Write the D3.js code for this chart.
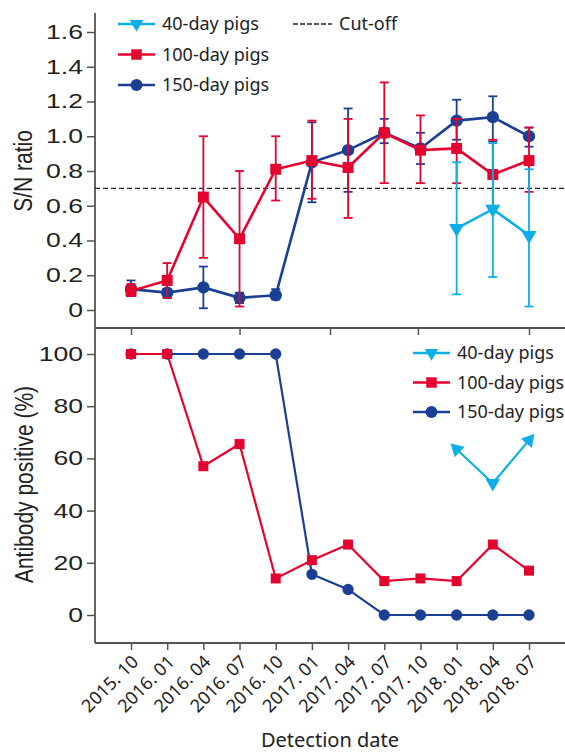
<!DOCTYPE html>
<html>
<head>
<meta charset="utf-8">
<script src="https://cdn.jsdelivr.net/npm/d3@7"></script>
<style>
  body { margin: 0; background: #fff; }
  svg { display: block; }
  .tick text { fill: #222; }
</style>
</head>
<body>
<svg id="chart" width="565" height="754"></svg>
<script>
// detection dates (x categories)
const dates = ["2015. 10", "2016. 01", "2016. 04", "2016. 07", "2016. 10", "2017. 01",
    "2017. 04", "2017. 07", "2017. 10", "2018. 01", "2018. 04", "2018. 07"];

// S/N ratio (mean, upper, lower) per group, index = date index
const snRed = [0.11, 0.17, 0.65, 0.41, 0.81, 0.86, 0.82, 1.02, 0.92, 0.93, 0.78, 0.86];
const snRedHi = [0.15, 0.27, 1.00, 0.80, 1.00, 1.09, 1.10, 1.31, 1.12, 1.10, 0.98, 1.05];
const snRedLo = [0.08, 0.07, 0.30, 0.02, 0.63, 0.64, 0.53, 0.73, 0.73, 0.73, 0.60, 0.68];

const snBlue = [0.12, 0.10, 0.13, 0.07, 0.085, 0.85, 0.92, 1.02, 0.93, 1.09, 1.11, 1.00];
const snBlueHi = [0.17, 0.12, 0.25, 0.10, 0.12, 1.08, 1.16, 1.10, 1.02, 1.21, 1.23, 1.05];
const snBlueLo = [0.08, 0.07, 0.01, 0.04, 0.06, 0.62, 0.68, 0.96, 0.84, 0.98, 0.97, 0.94];

const snCyanIdx = [9, 10, 11];
const snCyan = [0.47, 0.58, 0.43];
const snCyanHi = [0.85, 0.96, 0.81];
const snCyanLo = [0.09, 0.19, 0.02];

const cutOff = 0.7;

// antibody positive (%)
const pctRed = [100, 100, 57, 65.5, 14, 21, 27, 13, 14, 13, 27, 17];
const pctBlue = [100, 100, 100, 100, 100, 15.6, 9.8, 0, 0, 0, 0, 0];
const pctCyanIdx = [9, 10, 11];
const pctCyan = [63.5, 50.5, 67];

const snTicks = [0, 0.2, 0.4, 0.6, 0.8, 1.0, 1.2, 1.4, 1.6];
const pctTicks = [0, 20, 40, 60, 80, 100];
const topTickIdx = [0, 3, 5.5, 7.93, 11]; // the upper panel only has a few ticks

const RED = "#e4032e", BLUE = "#1b3f93", CYAN = "#0db0e6", AXIS = "#555";

const svg = d3.select("#chart");
const x = d3.scaleLinear().domain([0, 11]).range([131, 529]);
const yTop = d3.scaleLinear().domain([0, 1.6]).range([310, 32]);
const yBot = d3.scaleLinear().domain([0, 100]).range([615, 354]);
const axisX0 = 95;

const sq = d3.symbol().type(d3.symbolSquare);
const circ = d3.symbol().type(d3.symbolCircle);
const tri = d3.symbol().type(d3.symbolTriangle);

function drawSeries(g, idx, vals, y, color, shape, size, lw) {
    const pts = idx.map((d, i) => [x(d), y(vals[i])]);
    g.append("path")
        .attr("d", d3.line()(pts))
        .attr("fill", "none")
        .attr("stroke", color)
        .attr("stroke-width", lw);
    g.selectAll(null)
        .data(pts)
        .enter()
        .append("path")
        .attr("d", shape.size(size))
        .attr("transform", d => "translate(" + d[0] + "," + d[1] + ")")
        .attr("fill", color);
}

function drawErrors(g, idx, hi, lo, y, color) {
    const e = g.selectAll(null).data(idx).enter().append("g").attr("stroke", color).attr("stroke-width", 1.8);
    e.append("line").attr("x1", d => x(d)).attr("x2", d => x(d))
        .attr("y1", (d, i) => y(hi[i])).attr("y2", (d, i) => y(lo[i]));
    e.append("line").attr("x1", d => x(d) - 4.5).attr("x2", d => x(d) + 4.5)
        .attr("y1", (d, i) => y(hi[i])).attr("y2", (d, i) => y(hi[i]));
    e.append("line").attr("x1", d => x(d) - 4.5).attr("x2", d => x(d) + 4.5)
        .attr("y1", (d, i) => y(lo[i])).attr("y2", (d, i) => y(lo[i]));
}

function yAxis(scale, ticks, fmt, y1, y2) {
    const g = svg.append("g")
        .attr("transform", "translate(" + axisX0 + ",0)")
        .call(d3.axisLeft(scale).tickValues(ticks).tickFormat(fmt).tickSize(8).tickPadding(4));
    g.select(".domain").remove();
    g.selectAll(".tick line").attr("stroke", AXIS).attr("stroke-width", 1.5);
    g.selectAll(".tick text")
        .attr("font-family", "Liberation Sans, Arial, sans-serif")
        .attr("font-size", 20)
        .attr("x", -9)
        .attr("transform", "scale(1.33,1)");
    g.append("line").attr("y1", y1).attr("y2", y2).attr("stroke", AXIS).attr("stroke-width", 1.8);
    return g;
}

function xAxisLine(yPos, ticks, labels) {
    const g = svg.append("g")
        .attr("transform", "translate(0," + yPos + ")")
        .call(d3.axisBottom(x).tickValues(ticks).tickSize(7).tickFormat(labels ? (d => dates[d]) : ""));
    g.select(".domain").remove();
    g.selectAll(".tick line").attr("stroke", AXIS).attr("stroke-width", 1.5);
    g.append("line").attr("x1", axisX0).attr("x2", 565).attr("stroke", AXIS).attr("stroke-width", 1.8);
    if (labels) {
        g.selectAll(".tick text")
            .attr("font-family", "Noto Sans, sans-serif")
            .attr("font-size", 18)
            .attr("text-anchor", "end")
            .attr("y", 0)
            .attr("dy", 0)
            .attr("transform", "translate(8,20) rotate(-45)");
    }
}

// ---------- top panel: S/N ratio ----------
yAxis(yTop, snTicks, d => d === 0 ? "0" : d3.format(".1f")(d), 13, 328);
xAxisLine(328, topTickIdx, false);

svg.append("line")
    .attr("x1", axisX0).attr("x2", 565)
    .attr("y1", yTop(cutOff)).attr("y2", yTop(cutOff))
    .attr("stroke", "#222").attr("stroke-width", 1.3).attr("stroke-dasharray", "5,3");

const topG = svg.append("g");
const allIdx = d3.range(dates.length);
drawErrors(topG, allIdx, snBlueHi, snBlueLo, yTop, BLUE);
drawSeries(topG, allIdx, snBlue, yTop, BLUE, circ, 120, 2.6);
drawErrors(topG, allIdx, snRedHi, snRedLo, yTop, RED);
drawSeries(topG, allIdx, snRed, yTop, RED, sq, 120, 2.6);
drawErrors(topG, snCyanIdx, snCyanHi, snCyanLo, yTop, CYAN);
topG.append("path")
    .attr("d", d3.line()(snCyanIdx.map((d, i) => [x(d), yTop(snCyan[i])])))
    .attr("fill", "none").attr("stroke", CYAN).attr("stroke-width", 2.6);
topG.selectAll(null).data(snCyanIdx).enter().append("path")
    .attr("d", tri.size(100))
    .attr("transform", (d, i) => "translate(" + x(d) + "," + yTop(snCyan[i]) + ") rotate(180)")
    .attr("fill", CYAN);

svg.append("text")
    .attr("transform", "translate(32," + yTop(0.8) + ") scale(1.25,1) rotate(-90)")
    .attr("text-anchor", "middle")
    .attr("font-family", "Liberation Sans, Arial, sans-serif")
    .attr("font-size", 21)
    .attr("fill", "#222")
    .text("S/N ratio");

// ---------- bottom panel: antibody positive ----------
yAxis(yBot, pctTicks, d3.format("d"), 328, 643);
xAxisLine(643, allIdx, true);

const botG = svg.append("g");
drawSeries(botG, allIdx, pctBlue, yBot, BLUE, circ, 100, 2.2);
drawSeries(botG, allIdx, pctRed, yBot, RED, sq, 100, 2.2);
const cyPts = pctCyanIdx.map((d, i) => [x(d), yBot(pctCyan[i])]);
botG.append("path").attr("d", d3.line()(cyPts))
    .attr("fill", "none").attr("stroke", CYAN).attr("stroke-width", 2.2);
botG.selectAll(null).data(cyPts).enter().append("path")
    .attr("d", tri.size(90))
    .attr("transform", (d, i) => {
        // end markers point outward along the line, middle one points down
        let ang = 180;
        if (i === 0) ang = Math.atan2(d[1] - cyPts[1][1], d[0] - cyPts[1][0]) * 180 / Math.PI + 90;
        if (i === cyPts.length - 1) ang = Math.atan2(d[1] - cyPts[i - 1][1], d[0] - cyPts[i - 1][0]) * 180 / Math.PI + 90;
        return "translate(" + d[0] + "," + d[1] + ") rotate(" + ang + ")";
    })
    .attr("fill", CYAN);

svg.append("text")
    .attr("transform", "translate(33," + yBot(50) + ") scale(1.2,1) rotate(-90)")
    .attr("text-anchor", "middle")
    .attr("font-family", "Liberation Sans, Arial, sans-serif")
    .attr("font-size", 21)
    .attr("fill", "#222")
    .text("Antibody positive (%)");

svg.append("text")
    .attr("x", 330).attr("y", 747)
    .attr("text-anchor", "middle")
    .attr("font-family", "Noto Sans, sans-serif")
    .attr("font-size", 20)
    .attr("fill", "#222")
    .text("Detection date");

// ---------- legends ----------
const groups = ["40-day pigs", "100-day pigs", "150-day pigs"];
const groupColors = [CYAN, RED, BLUE];
const groupShapes = [tri, sq, circ];

function legend(x0, y0, dy) {
    const lg = svg.append("g").attr("transform", "translate(" + x0 + "," + y0 + ")");
    groups.forEach((name, i) => {
        const row = lg.append("g").attr("transform", "translate(0," + i * dy + ")");
        row.append("line").attr("x1", 0).attr("x2", 37)
            .attr("stroke", groupColors[i]).attr("stroke-width", 2.6);
        row.append("path")
            .attr("d", groupShapes[i].size(i === 0 ? 80 : 110))
            .attr("transform", i === 0 ? "translate(18.5,0) rotate(180)" : "translate(18.5,0)")
            .attr("fill", groupColors[i]);
        row.append("text").attr("x", 44).attr("dy", "0.35em")
            .attr("font-family", "Noto Sans, sans-serif")
            .attr("font-size", 18)
            .attr("fill", "#222")
            .text(name);
    });
}
legend(118, 24, 30.5);
legend(413, 353, 29.5);

const co = svg.append("g").attr("transform", "translate(293,24)");
co.append("line").attr("x1", 0).attr("x2", 39)
    .attr("stroke", "#222").attr("stroke-width", 1.3).attr("stroke-dasharray", "5,2");
co.append("text").attr("x", 46).attr("dy", "0.35em")
    .attr("font-family", "Noto Sans, sans-serif")
    .attr("font-size", 18)
    .attr("fill", "#222")
    .text("Cut-off");
</script>
</body>
</html>
